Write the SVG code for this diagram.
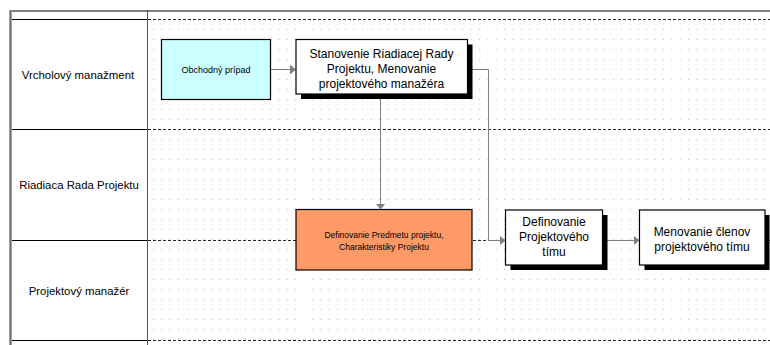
<svg xmlns="http://www.w3.org/2000/svg" width="770" height="345" viewBox="0 0 770 345">
<style>
text{font-family:"Liberation Sans",Arial,sans-serif;fill:#000;text-anchor:middle}
.lane{font-size:11.4px}
.big{font-size:12px}
.small{font-size:8.5px}
.box{stroke:#000;stroke-width:1.2}
.shadow{fill:#000}
.conn{fill:none;stroke:#808080;stroke-width:1}
.div{stroke:#222;stroke-width:1;stroke-dasharray:3,2}
.hdr{stroke:#000;stroke-width:1}
</style>
<defs>
<pattern id="dots" patternUnits="userSpaceOnUse" x="153" y="29" width="8.36" height="10">
<rect x="0" y="0" width="1" height="1" fill="#bdbdbd"/>
</pattern>
<marker id="arr" viewBox="0 0 6 10" refX="6" refY="5" markerWidth="6" markerHeight="10" markerUnits="userSpaceOnUse" orient="auto">
<path d="M0,0 L6,5 L0,10 Z" fill="#808080"/>
</marker>
</defs>
<rect x="0" y="0" width="770" height="345" fill="#fff"/>
<g id="pool">
<rect x="148" y="20" width="622" height="320" fill="url(#dots)"/>
<rect x="9" y="10" width="761" height="2" fill="#808080"/>
<rect x="9" y="10" width="3" height="335" fill="#a0a0a0"/>
<line x1="10.5" y1="10" x2="10.5" y2="345" stroke="#707070"/>
<line x1="147.5" y1="10" x2="147.5" y2="345" stroke="#555"/>
<line class="hdr" x1="12" y1="19.5" x2="147" y2="19.5"/>
<line class="hdr" x1="12" y1="129.5" x2="147" y2="129.5"/>
<line class="hdr" x1="12" y1="240.5" x2="147" y2="240.5"/>
<line class="hdr" x1="12" y1="340.5" x2="147" y2="340.5"/>
<line class="div" x1="148" y1="19.5" x2="770" y2="19.5"/>
<line class="div" x1="148" y1="129.5" x2="770" y2="129.5"/>
<line class="div" x1="148" y1="240.5" x2="770" y2="240.5"/>
<line class="div" x1="148" y1="340.5" x2="770" y2="340.5"/>
</g>
<g id="lane1"><text class="lane" x="78" y="79">Vrcholový manažment</text></g>
<g id="lane2"><text class="lane" x="79" y="189">Riadiaca Rada Projektu</text></g>
<g id="lane3"><text class="lane" x="79" y="295">Projektový manažér</text></g>
<g id="connectors">
<path class="conn" d="M271 69.5 H296" marker-end="url(#arr)"/>
<path class="conn" d="M380.5 94.5 V209.5" marker-end="url(#arr)"/>
<path class="conn" d="M468 69.5 H488.5 V240.5 H505.5" marker-end="url(#arr)"/>
<path class="conn" d="M603 240.5 H639.5" marker-end="url(#arr)"/>
</g>
<g id="n1">
<rect class="box" x="161.5" y="39.5" width="109" height="60" fill="#ccffff"/>
<text x="216" y="73" style="font-size:9px">Obchodný prípad</text>
</g>
<g id="n2">
<rect class="shadow" x="301" y="44.5" width="171.5" height="54.5"/>
<rect class="box" x="296" y="39.5" width="171.5" height="54.5" fill="#fff"/>
<text class="big" x="381.5" y="57.5">Stanovenie Riadiacej Rady</text>
<text class="big" x="381.5" y="72.5">Projektu, Menovanie</text>
<text class="big" x="381.5" y="87.5">projektového manažéra</text>
</g>
<g id="n3">
<rect class="box" x="296" y="209.5" width="176" height="60.5" fill="#ff9966" stroke="#333"/>
<text class="small" x="384" y="237.5">Definovanie Predmetu projektu,</text>
<text class="small" x="384" y="250">Charakteristiky Projektu</text>
</g>
<g id="n4">
<rect class="shadow" x="510.5" y="215" width="97" height="55"/>
<rect class="box" x="505.5" y="210" width="97" height="55" fill="#fff"/>
<text class="big" x="554" y="226">Definovanie</text>
<text class="big" x="554" y="241">Projektového</text>
<text class="big" x="554" y="256">tímu</text>
</g>
<g id="n5">
<rect class="shadow" x="644.5" y="215" width="125" height="55"/>
<rect class="box" x="639.5" y="210" width="125.5" height="55" fill="#fff"/>
<text class="big" x="702" y="236">Menovanie členov</text>
<text class="big" x="702" y="251">projektového tímu</text>
</g>
</svg>
